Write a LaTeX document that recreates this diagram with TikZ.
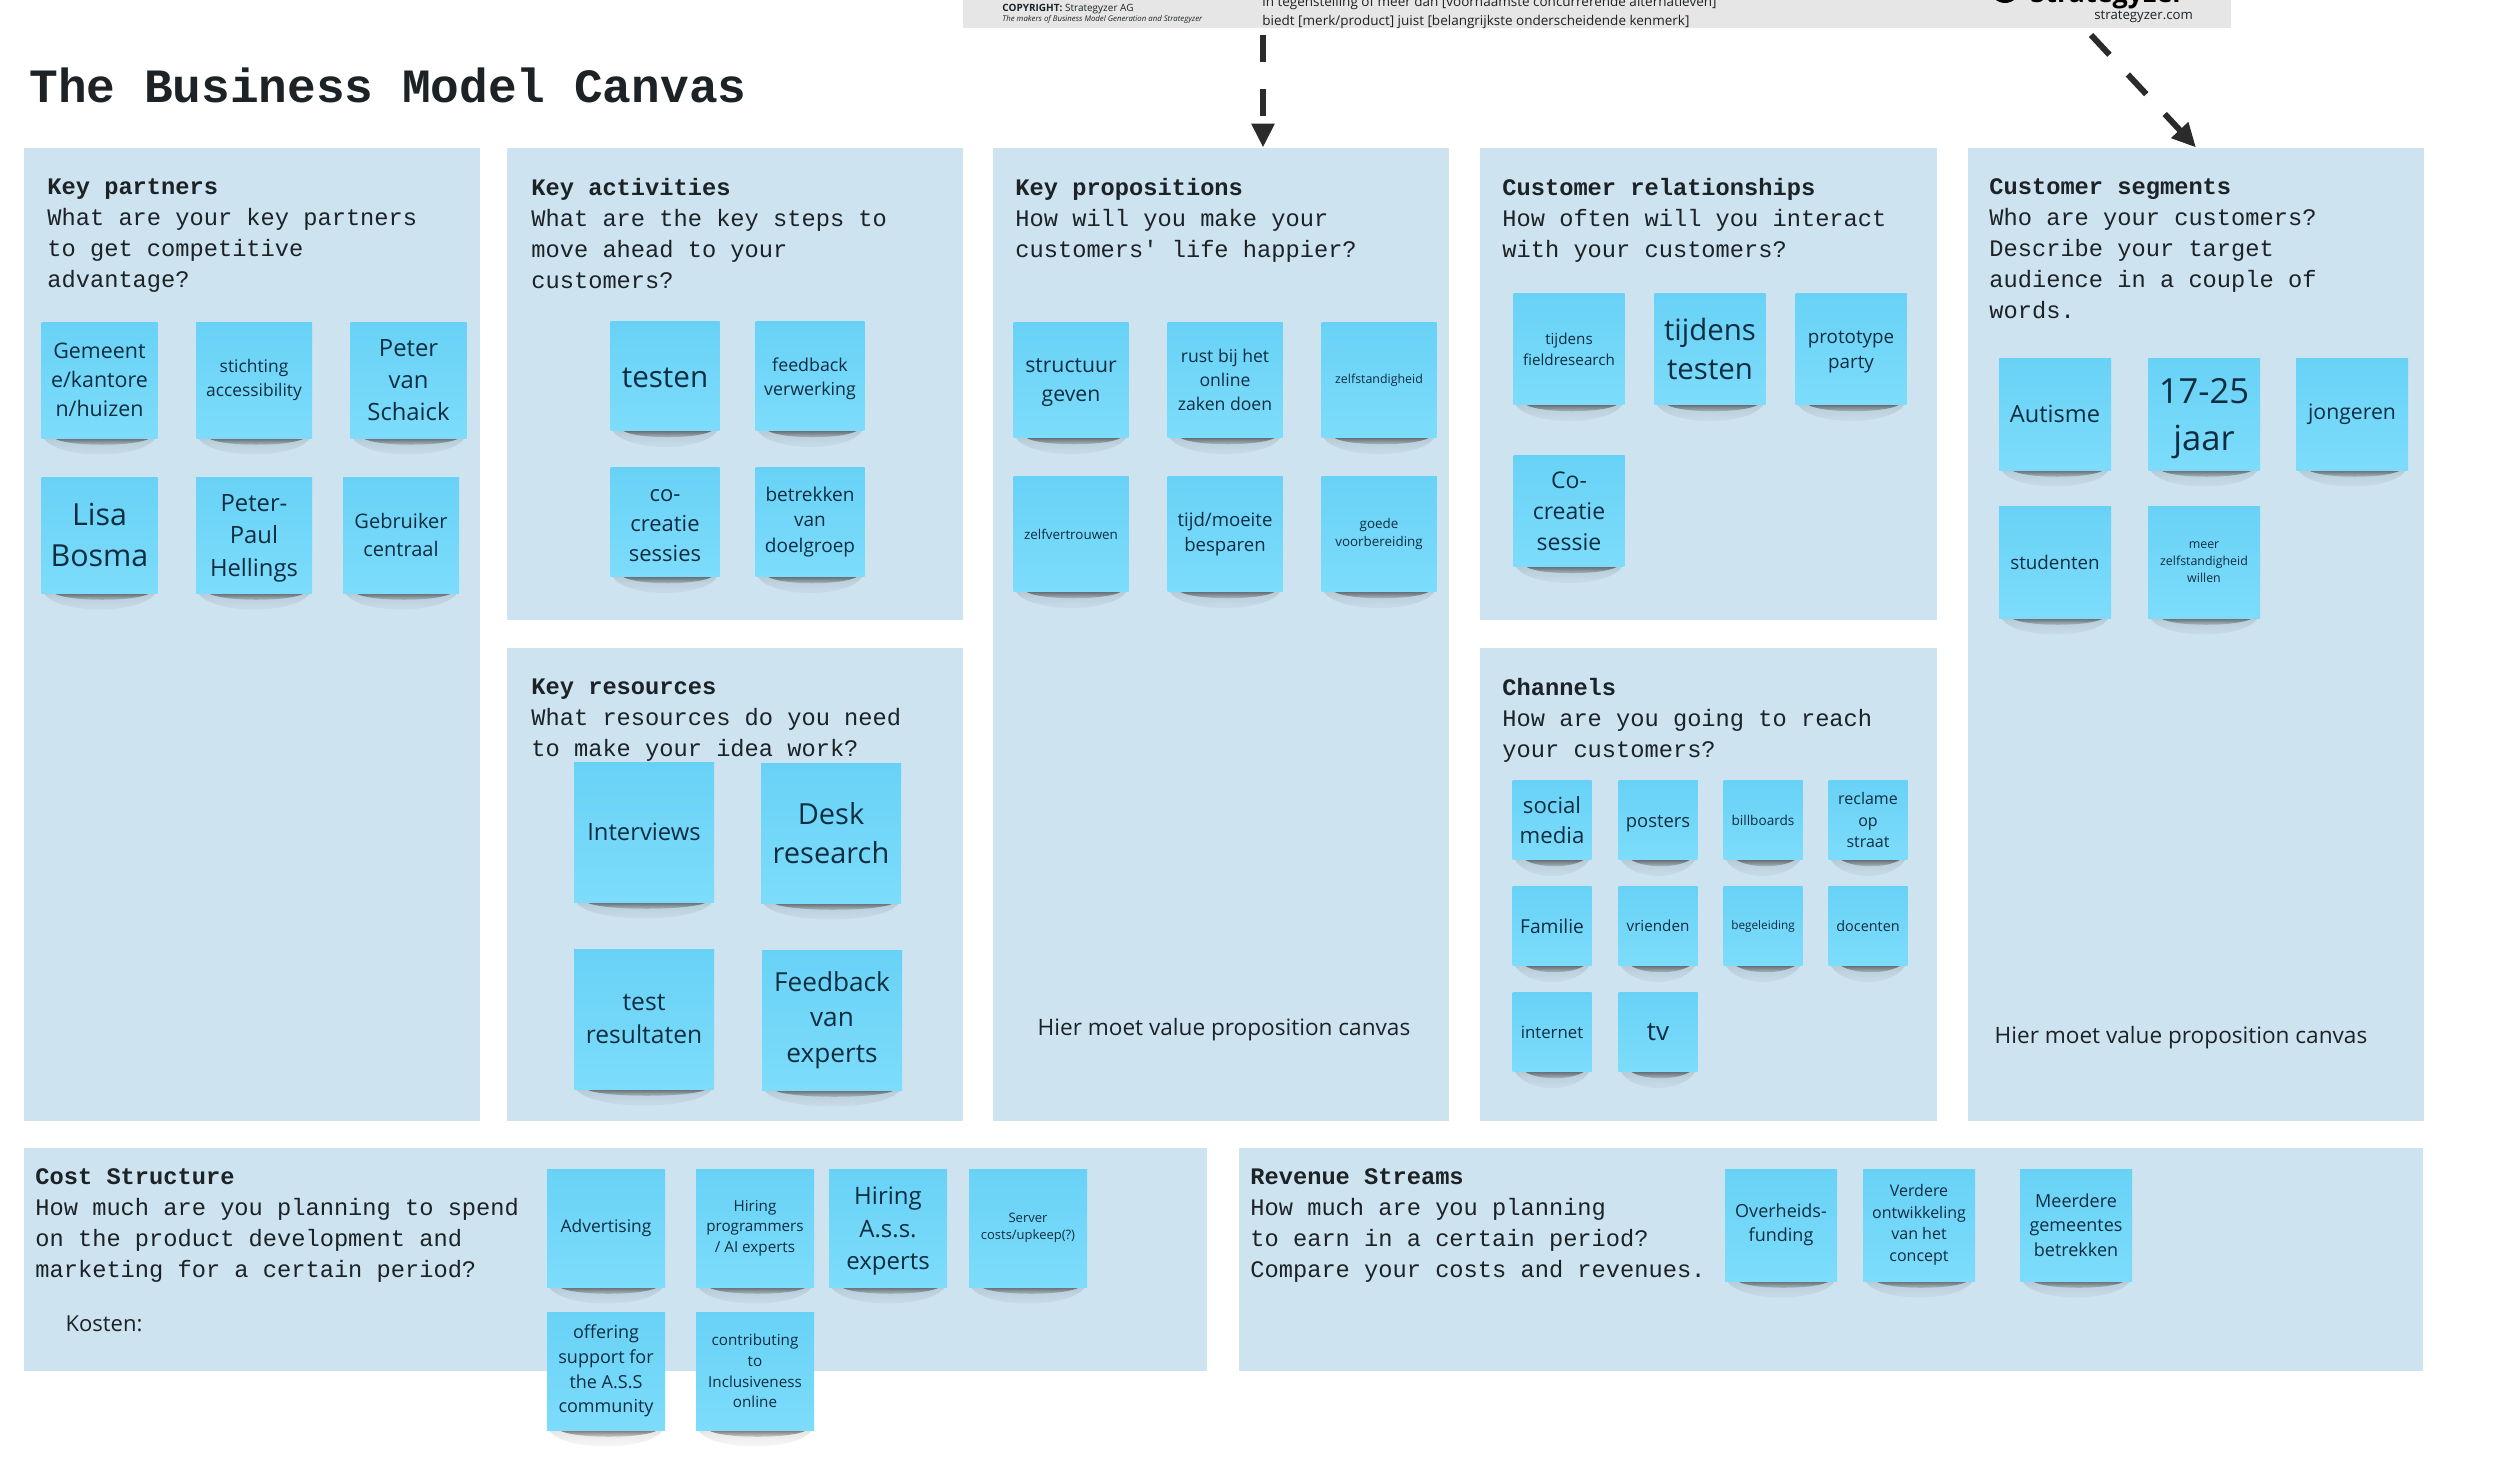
\documentclass[tikz,border=0pt]{standalone}
\usepackage{fontspec}
\setmainfont{Open Sans}
\setmonofont{Liberation Mono}
\usepackage{xcolor}
\usetikzlibrary{arrows.meta, positioning, calc, fadings}
\definecolor{panelblue}{HTML}{CDE3F0}
\definecolor{notetop}{HTML}{68D2F6}
\definecolor{notebot}{HTML}{7DDCFB}
\definecolor{noteink}{HTML}{0F2D40}
\definecolor{bandgray}{HTML}{E6E6E6}
\definecolor{inkdark}{HTML}{1C2226}
\definecolor{arrowdark}{HTML}{2B2B2B}
\newcommand{\nudge}[1]{\rule{0pt}{#1}}

\begin{document}
\begin{tikzpicture}[
    x=0.5pt, y=-0.5pt,
    panel/.style={fill=panelblue, inner sep=0pt, outer sep=0pt},
    paneltxt/.style={font=\fontsize{11.85}{15.5}\selectfont\ttfamily, text=inkdark, align=left, inner sep=0pt, anchor=north west},
    note/.style={minimum size=#1, inner sep=0pt, outer sep=0pt, align=center, text=noteink,
                 top color=notetop, bottom color=notebot, shade, noteshadow},
    noteshadow/.style={append after command={\pgfextra{\let\lastnote\tikzlastnode
        \fill[black, opacity=.10, path fading=south] ($(\lastnote.south west)+(2,0)$) .. controls +(14,22) and +(-14,22) .. ($(\lastnote.south east)+(-2,0)$) -- cycle;
        \fill[arrowdark, opacity=.6, path fading=south] ($(\lastnote.south west)+(12,0)$) .. controls +(14,9) and +(-14,9) .. ($(\lastnote.south east)+(-7,0)$) -- cycle;
    }}},
    txt/.style 2 args={font=\fontsize{#1}{#2}\selectfont},
    bandtxt/.style={text=inkdark, inner sep=0pt, anchor=base west},
    arr/.style={-{Triangle[length=12pt, width=11pt]}, line width=3pt, arrowdark, dash pattern=on 13.5pt off 13.5pt}
]
\useasboundingbox (0,0) rectangle (2500,1473);

\node[panel, fill=bandgray, minimum width=634pt, minimum height=14pt] (band) at (1597,14) {};
\node[panel, minimum width=228pt, minimum height=486.5pt] (partners) at (252,634) {};
\node[panel, minimum width=228pt, minimum height=236pt] (activities) at (735,384) {};
\node[panel, minimum width=228pt, minimum height=236.5pt] (resources) at (735,884.5) {};
\node[panel, minimum width=228pt, minimum height=486.5pt] (propositions) at (1221,634) {};
\node[panel, minimum width=228.5pt, minimum height=236pt] (relations) at (1708,384) {};
\node[panel, minimum width=228.5pt, minimum height=236.5pt] (channels) at (1708,884.5) {};
\node[panel, minimum width=228pt, minimum height=486.5pt] (segments) at (2196,634) {};
\node[panel, minimum width=591.5pt, minimum height=111.5pt] (cost) at (615.5,1259.5) {};
\node[panel, minimum width=592pt, minimum height=111.5pt] (revenue) at (1831,1259.5) {};

\node[font=\fontsize{23.9}{28}\selectfont\ttfamily\bfseries, text=inkdark, inner sep=0pt, anchor=base west] (title) at (29,102) {The Business Model Canvas};

\node[paneltxt] (partnerstxt) at (47,178) {\textbf{Key partners}\\What are your key partners\\to get competitive\\advantage?};
\node[paneltxt] (activitiestxt) at (531,178) {\textbf{Key activities}\\What are the key steps to\\move ahead to your\\customers?};
\node[paneltxt] (resourcestxt) at (531,678) {\textbf{Key resources}\\What resources do you need\\to make your idea work?};
\node[paneltxt] (propositionstxt) at (1015,178) {\textbf{Key propositions}\\How will you make your\\customers' life happier?};
\node[paneltxt] (relationstxt) at (1502,178) {\textbf{Customer relationships}\\How often will you interact\\with your customers?};
\node[paneltxt] (channelstxt) at (1502,678) {\textbf{Channels}\\How are you going to reach\\your customers?};
\node[paneltxt] (segmentstxt) at (1989,178) {\textbf{Customer segments}\\Who are your customers?\\Describe your target\\audience in a couple of\\words.};
\node[paneltxt] (costtxt) at (35,1168) {\textbf{Cost Structure}\\How much are you planning to spend\\on the product development and\\marketing for a certain period?};
\node[paneltxt] (revenuetxt) at (1250,1168) {\textbf{Revenue Streams}\\How much are you planning\\to earn in a certain period?\\Compare your costs and revenues.};

\node[note=58pt, txt={10.7}{14.5}] (gemeente) at (99.5,380) {Gemeent\\e/kantore\\n/huizen};
\node[note=58pt, txt={8.7}{11.8}] (stichting) at (254,380) {stichting\\accessibility};
\node[note=58pt, txt={11.9}{16}] (schaick) at (408.5,380) {Peter\\van\\Schaick};
\node[note=58pt, txt={15.2}{20.6}] (bosma) at (99.5,535) {Lisa\\Bosma};
\node[note=58pt, txt={11.9}{16.2}] (hellings) at (254,535) {\nudge{11.5pt}Peter-\\Paul\\Hellings};
\node[note=58pt, txt={10}{13.7}] (gebruiker) at (401,535) {Gebruiker\\centraal};

\node[note=54.5pt, txt={14.8}{20}] (testen) at (665,376) {\nudge{11.3pt}testen};
\node[note=54.5pt, txt={8.9}{12}] (verwerking) at (810,376) {\nudge{9.2pt}feedback\\verwerking};
\node[note=54.5pt, txt={11}{15}] (cocreatie) at (665,522) {\nudge{9.5pt}co-\\creatie\\sessies};
\node[note=54.5pt, txt={9.5}{12.8}] (doelgroep) at (810,522) {betrekken\\van\\doelgroep};

\node[note=70pt, txt={11.9}{16}] (interviews) at (644,832) {Interviews};
\node[note=70pt, txt={14.5}{19.5}] (desk) at (831,833) {Desk\\research};
\node[note=70pt, txt={12.3}{16.7}] (resultaten) at (644,1019) {test\\resultaten};
\node[note=70pt, txt={13.1}{17.7}] (experts) at (832,1020) {Feedback\\van\\experts};

\node[note=57.5pt, txt={10.6}{14.3}] (structuur) at (1071,380) {\nudge{9.5pt}structuur\\geven};
\node[note=57.5pt, txt={8.8}{12}] (rust) at (1225,380) {rust bij het\\online\\zaken doen};
\node[note=57.5pt, txt={6.2}{8.4}] (zelfstandig) at (1379,380) {zelfstandigheid};
\node[note=57.5pt, txt={6.7}{9}] (zelfvertrouwen) at (1071,534) {zelfvertrouwen};
\node[note=57.5pt, txt={9.3}{12.5}] (moeite) at (1225,534) {tijd/moeite\\besparen};
\node[note=57.5pt, txt={6.7}{9}] (voorbereiding) at (1379,534) {goede\\voorbereiding};
\node[txt={11.3}{14}, text=inkdark, inner sep=0pt] (vpcleft) at (1224,1030) {Hier moet value proposition canvas};

\node[note=55.5pt, txt={7.6}{10.3}] (fieldresearch) at (1569,349) {tijdens\\fieldresearch};
\node[note=55.5pt, txt={14.7}{19.9}] (tijdens) at (1710,349) {tijdens\\testen};
\node[note=55.5pt, txt={9.4}{12.8}] (prototype) at (1851,349) {\nudge{9.4pt}prototype\\party};
\node[note=55.5pt, txt={11.5}{15.5}] (sessie) at (1569,511) {Co-\\creatie\\sessie};

\node[note=39.5pt, txt={11.1}{15}] (social) at (1552,820) {social\\media};
\node[note=39.5pt, txt={9.2}{12}] (posters) at (1658,820) {\nudge{10pt}posters};
\node[note=39.5pt, txt={6.8}{9}] (billboards) at (1763,820) {billboards};
\node[note=39.5pt, txt={8}{10.8}] (reclame) at (1868,820) {reclame\\op\\straat};
\node[note=39.5pt, txt={9.6}{12}] (familie) at (1552,926) {Familie};
\node[note=39.5pt, txt={7.6}{10}] (vrienden) at (1658,926) {vrienden};
\node[note=39.5pt, txt={5.9}{8}] (begeleiding) at (1763,926) {begeleiding};
\node[note=39.5pt, txt={7.2}{10}] (docenten) at (1868,926) {docenten};
\node[note=39.5pt, txt={8.4}{11}] (internet) at (1552,1032) {internet};
\node[note=39.5pt, txt={13}{17}] (tv) at (1658,1032) {tv};

\node[note=56pt, txt={11.8}{16}] (autisme) at (2055,414) {Autisme};
\node[note=56pt, txt={17.3}{23.4}] (jaar) at (2204,414) {\nudge{17.2pt}17-25\\jaar};
\node[note=56pt, txt={10.6}{14}] (jongeren) at (2352,414) {jongeren};
\node[note=56pt, txt={9.4}{12}] (studenten) at (2055,562) {studenten};
\node[note=56pt, txt={6.2}{8.4}] (willen) at (2204,562) {meer\\zelfstandigheid\\willen};
\node[txt={11.3}{14}, text=inkdark, inner sep=0pt] (vpcright) at (2181,1038) {Hier moet value proposition canvas};

\node[note=59pt, txt={8.7}{12}] (advertising) at (606,1228) {Advertising};
\node[note=59pt, txt={7.6}{10.3}] (programmers) at (755,1228) {Hiring\\programmers\\/ AI experts};
\node[note=59pt, txt={12}{16.3}] (ass) at (888,1228) {\nudge{12pt}Hiring\\A.s.s.\\experts};
\node[note=59pt, txt={6.5}{8.8}] (server) at (1028,1228) {Server\\costs/upkeep(?)};
\node[note=59pt, txt={9}{12.3}] (offering) at (606,1371) {offering\\support for\\the A.S.S\\community};
\node[note=59pt, txt={7.6}{10.3}] (contributing) at (755,1371) {contributing\\to\\Inclusiveness\\online};
\node[txt={11}{14}, text=inkdark, inner sep=0pt] (kosten) at (104,1324) {Kosten:};

\node[note=56pt, txt={9}{12.2}] (overheid) at (1781,1225) {Overheids-\\funding};
\node[note=56pt, txt={8}{10.8}] (verdere) at (1919,1225) {Verdere\\ontwikkeling\\van het\\concept};
\node[note=56pt, txt={9}{12.2}] (meerdere) at (2076,1225) {Meerdere\\gemeentes\\betrekken};

\node[bandtxt, txt={5}{7}] (copyright) at (1002,11) {\textbf{COPYRIGHT:} Strategyzer AG};
\node[bandtxt, txt={3.9}{5}] (makers) at (1002,21) {\textit{The makers of Business Model Generation and Strategyzer}};
\node[bandtxt, txt={6.75}{9}] (tegen) at (1262,6) {in tegenstelling of meer dan [voornaamste concurrerende alternatieven]};
\node[bandtxt, txt={6.75}{9}] (biedt) at (1262,25) {biedt [merk/product] juist [belangrijkste onderscheidende kenmerk]};
\node[bandtxt, txt={6.6}{8}] (website) at (2094,19) {strategyzer.com};
\node[bandtxt, font=\fontsize{13.5}{16}\selectfont\bfseries, text=black] (logo) at (2030,2) {Strategyzer};
\node[circle, fill=black, minimum size=15pt, inner sep=0pt] (logodot) at (2005,-12) {};

\coordinate (propstart) at (1263,35);
\coordinate (propend) at (propositions.north -| propstart);
\coordinate (segstart) at (2091,35);
\draw[arr] (propstart) -- (propend);
\draw[arr] (segstart) -- (segments.north);
\end{tikzpicture}
\end{document}
